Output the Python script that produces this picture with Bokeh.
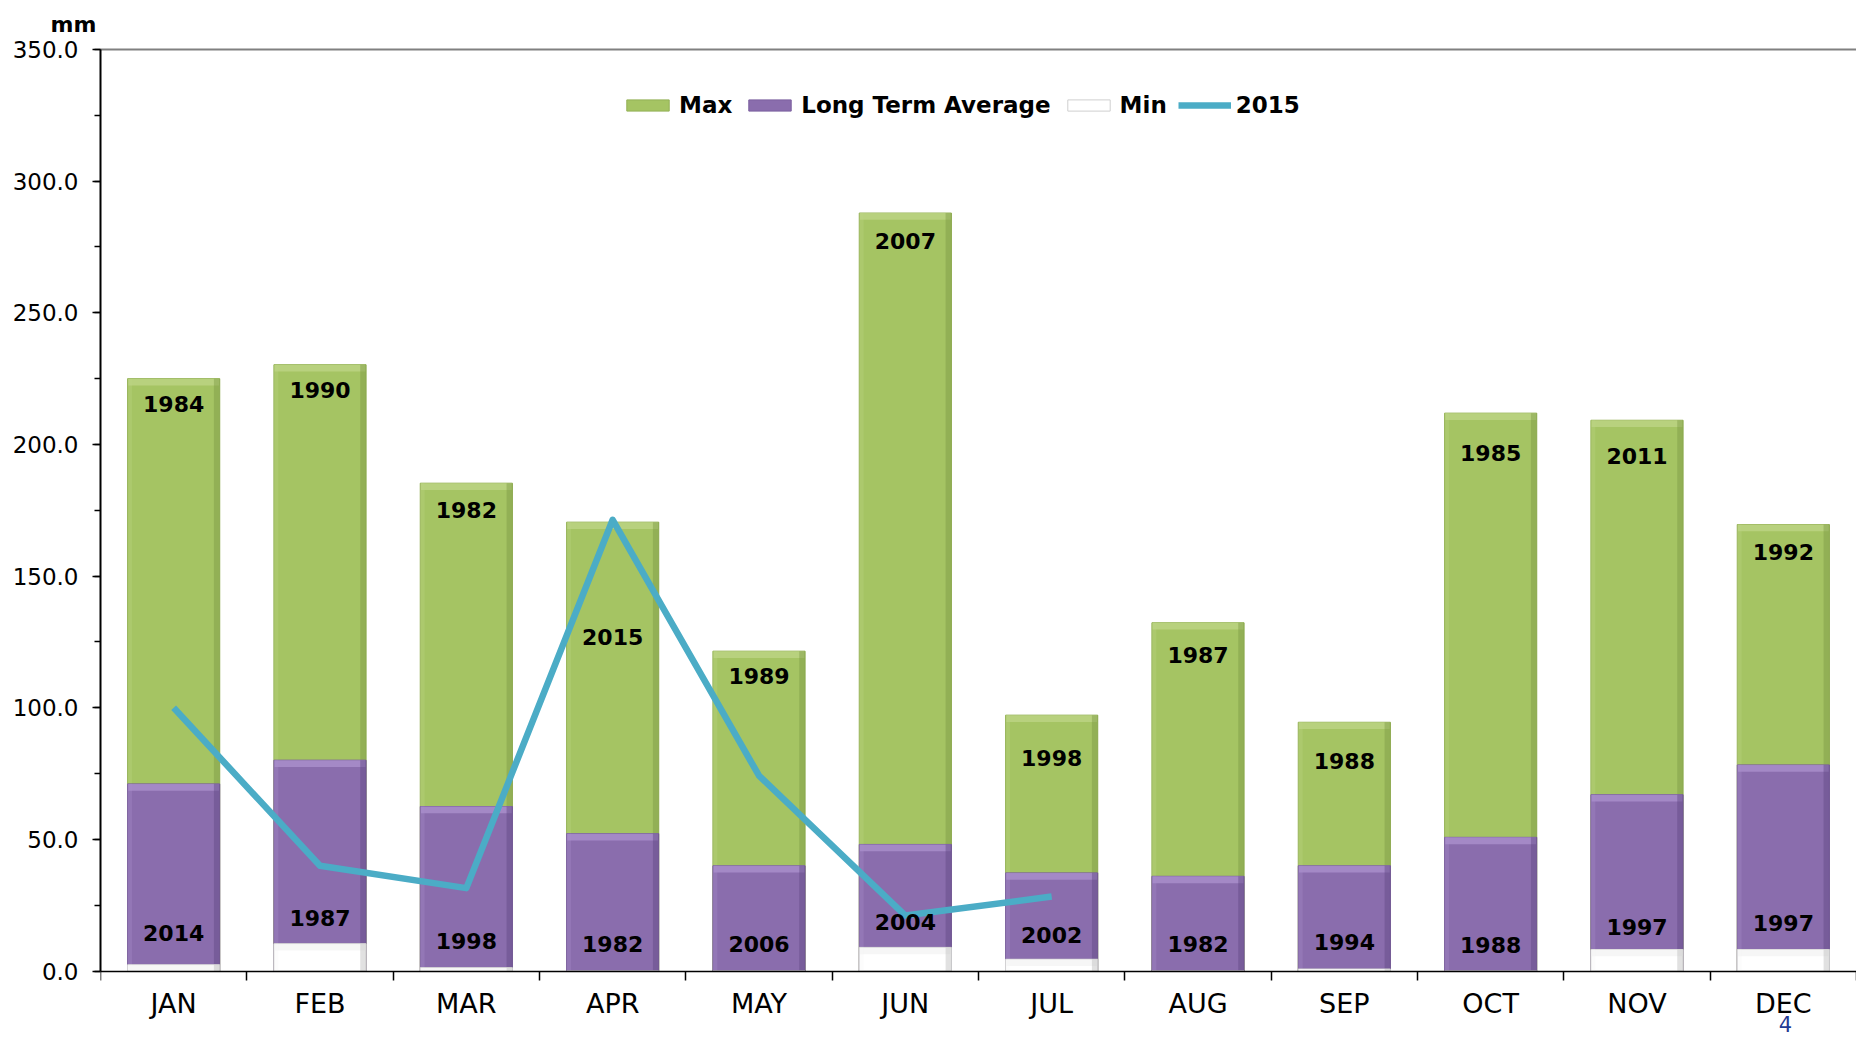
from bokeh.plotting import figure
from bokeh.models import (Range1d, FixedTicker, SingleIntervalTicker, NumeralTickFormatter,
                          LinearAxis, Legend, LegendItem, Label)
from bokeh.core.properties import value
from bokeh.embed import file_html
from bokeh.resources import INLINE

# ---------------- data ----------------
months = ["JAN", "FEB", "MAR", "APR", "MAY", "JUN", "JUL", "AUG", "SEP", "OCT", "NOV", "DEC"]
max_vals = [225.0, 230.3, 185.3, 170.5, 121.5, 287.9, 97.2, 132.3, 94.5, 211.9, 209.2, 169.6]
max_years = ["1984", "1990", "1982", "2015", "1989", "2007", "1998", "1987", "1988", "1985", "2011", "1992"]
lta_vals = [71.1, 80.1, 62.5, 52.2, 40.0, 48.1, 37.3, 36.0, 40.0, 50.8, 67.0, 78.3]
min_vals = [2.4, 10.4, 1.3, 0.0, 0.0, 9.0, 4.5, 0.0, 0.8, 0.0, 8.2, 8.2]
min_years = ["2014", "1987", "1998", "1982", "2006", "2004", "2002", "1982", "1994", "1988", "1997", "1997"]
y2015 = [100.0, 40.0, 31.5, 171.4, 74.2, 21.1, 28.3]
y_min, y_max, y_ticks_step = 0, 350, 50
page_number = "4"

# ---------------- style ----------------
FONT = "DejaVu Sans"
BAR_W = 0.63
Y_PAD_BELOW = 25.6   # room below zero for the month labels (frame reaches the page bottom)
max_label_offsets = [25, 25, 27, 115, 25, 28, 43, 32, 39, 40, 36, 27]
min_label_offsets = [-32, -26, -27, -27, -27, -25, -24, -27, -27, -26, -23, -27]

xs = [i + 0.5 for i in range(len(months))]
bounds = [float(i) for i in range(len(months) + 1)]

p = figure(width=1856, height=1038, x_range=Range1d(0, len(months)),
           y_range=Range1d(y_min - Y_PAD_BELOW, y_max),
           output_backend="svg", toolbar_location=None,
           min_border_left=100, min_border_right=0, min_border_top=49, min_border_bottom=0)
p.outline_line_color = None
p.grid.visible = False
p.background_fill_color = "white"


def bevel_bars(vals, base, light, dark, edge):
    main = p.vbar(x=xs, top=vals, bottom=0, width=BAR_W, fill_color=base,
                  line_color=edge, line_width=1)
    xv = [x for x, v in zip(xs, vals) if v > 0]
    tv = [v for v in vals if v > 0]
    bv = [max(v - 2.6, 0) for v in tv]
    p.vbar(x=xv, top=tv, bottom=bv, width=BAR_W - 0.01, fill_color=light, fill_alpha=0.8,
           line_color=None)
    p.vbar(x=[x + BAR_W / 2 - 0.02 for x in xv], top=tv, bottom=0, width=0.04,
           fill_color=dark, fill_alpha=0.45, line_color=None)
    p.vbar(x=[x - BAR_W / 2 + 0.015 for x in xv], top=tv, bottom=0, width=0.03,
           fill_color=light, fill_alpha=0.3, line_color=None)
    return main


r_max = bevel_bars(max_vals, "#A5C463", "#BDD585", "#7D9844", "#93B054")
r_lta = bevel_bars(lta_vals, "#8A6DAD", "#AA90CC", "#5F4783", "#7A5E9E")
r_min = bevel_bars(min_vals, "#FFFFFF", "#F4F4F4", "#BDBDBD", "#CFCFCF")

r_line = p.line(x=xs[:len(y2015)], y=y2015, line_color="#4BACC6", line_width=6.5,
                line_join="round")

p.text(x=xs, y=max_vals, text=max_years, y_offset=max_label_offsets,
       text_font=value(FONT), text_font_style="bold", text_font_size="22px",
       text_align="center", text_baseline="middle", text_color="black")
p.text(x=xs, y=min_vals, text=min_years, y_offset=min_label_offsets,
       text_font=value(FONT), text_font_style="bold", text_font_size="22px",
       text_align="center", text_baseline="middle", text_color="black")

# ---------------- axes ----------------
xa = p.xaxis[0]
xa.fixed_location = y_min
xa.ticker = FixedTicker(ticks=xs, minor_ticks=bounds)
xa.major_label_overrides = {x: m for x, m in zip(xs, months)}
xa.major_tick_out = 0
xa.major_tick_in = 0
xa.minor_tick_out = 9
xa.minor_tick_in = 0
xa.minor_tick_line_color = "black"
xa.minor_tick_line_width = 1.5
xa.axis_line_color = "black"
xa.axis_line_width = 1.5
xa.major_label_standoff = 8
xa.major_label_text_font = FONT
xa.major_label_text_font_size = "27px"
xa.major_label_text_color = "black"

ya = p.yaxis[0]
ya.bounds = (y_min, y_max)
ya.ticker = SingleIntervalTicker(interval=y_ticks_step, num_minor_ticks=2)
ya.formatter = NumeralTickFormatter(format="0.0")
ya.major_tick_out = 8
ya.major_tick_in = 0
ya.minor_tick_out = 6
ya.minor_tick_in = 0
ya.major_tick_line_color = "black"
ya.minor_tick_line_color = "black"
ya.major_tick_line_width = 1.5
ya.minor_tick_line_width = 1.5
ya.axis_line_color = "black"
ya.axis_line_width = 2
ya.major_label_standoff = 14
ya.major_label_text_font = FONT
ya.major_label_text_font_size = "23px"
ya.major_label_text_color = "black"

top_axis = LinearAxis(ticker=FixedTicker(ticks=[]), axis_line_color="#808080", axis_line_width=2,
                      major_label_text_font_size="0px", major_tick_line_color=None,
                      minor_tick_line_color=None)
p.add_layout(top_axis, "above")

# unit label as the figure title, top-left
p.title.text = "mm"
p.title.align = "left"
p.title.vertical_align = "top"
p.title.offset = -50
p.title.text_font = FONT
p.title.text_font_size = "22px"
p.title.text_font_style = "bold"
p.title.text_color = "black"
p.title.standoff = 22

# ---------------- legend ----------------
legend = Legend(items=[LegendItem(label="Max", renderers=[r_max]),
                       LegendItem(label="Long Term Average", renderers=[r_lta]),
                       LegendItem(label="Min", renderers=[r_min]),
                       LegendItem(label="2015", renderers=[r_line])],
                location=(521, 920), orientation="horizontal",
                glyph_width=53, glyph_height=14, spacing=11, label_standoff=5,
                padding=0, margin=0, background_fill_alpha=0, border_line_color=None,
                label_text_font=FONT, label_text_font_size="23px", label_text_font_style="bold",
                label_text_color="black")
p.add_layout(legend)

p.add_layout(Label(x=1685, y=15, x_units="screen", y_units="screen", text=page_number,
                   text_font=FONT, text_font_size="21px", text_color="#1F3A93",
                   text_align="center", text_baseline="middle"))

open("out.html", "w").write(file_html(p, INLINE))
